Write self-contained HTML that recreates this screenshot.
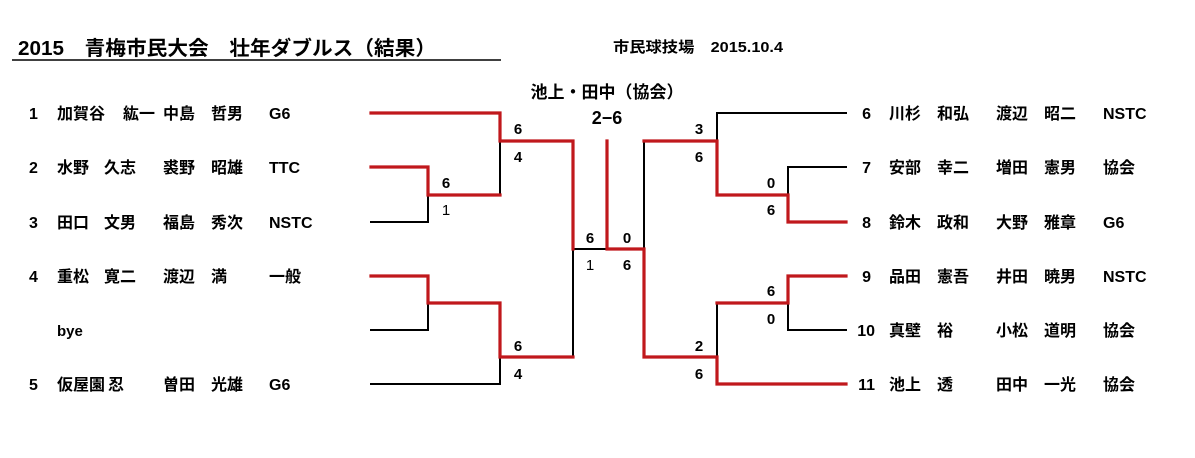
<!DOCTYPE html>
<html><head><meta charset="utf-8"><style>
html,body{margin:0;padding:0;background:#fff;}
svg{display:block;}
text{font-family:"Liberation Sans","Noto Sans CJK JP",sans-serif;fill:#000;}
.t{font-size:16px;font-weight:bold;}
</style></head><body>
<svg width="1195" height="458" viewBox="0 0 1195 458" xmlns="http://www.w3.org/2000/svg">
<text x="18" y="55" style="font-size:20px;font-weight:bold" textLength="418" lengthAdjust="spacingAndGlyphs">2015　青梅市民大会　壮年ダブルス（結果）</text>
<line x1="12" y1="60" x2="501" y2="60" stroke="#000" stroke-width="1.5"/>
<text x="613" y="52" style="font-size:15px;font-weight:bold" textLength="170" lengthAdjust="spacingAndGlyphs">市民球技場　2015.10.4</text>
<text x="607" y="98" text-anchor="middle" style="font-size:17px;font-weight:bold">池上・田中（協会）</text>
<text x="607" y="124" text-anchor="middle" style="font-size:18px;font-weight:bold">2−6</text>

<g fill="none" stroke-linecap="square">
<g stroke="#000" stroke-width="2">
<polyline points="500,141 500,195 428,195"/>
<polyline points="428,195 428,222 371,222"/>
<polyline points="428,303 428,330 371,330"/>
<polyline points="500,357 500,384 371,384"/>
<polyline points="573,249 573,357"/>
<line x1="573" y1="249" x2="607" y2="249"/>
<polyline points="644,249 644,141"/>
<polyline points="717,141 717,113 846,113"/>
<polyline points="788,195 788,167 846,167"/>
<polyline points="717,357 717,303"/>
<polyline points="788,303 788,330 846,330"/>
</g>
<g stroke="#c0181c" stroke-width="3.2">
<polyline points="371,113 500,113 500,141 573,141 573,249"/>
<polyline points="371,167 428,167 428,195 500,195"/>
<polyline points="371,276 428,276 428,303 500,303 500,357 573,357"/>
<polyline points="607,141 607,249 644,249 644,357 717,357 717,384 846,384"/>
<polyline points="644,141 717,141 717,195 788,195 788,222 846,222"/>
<polyline points="717,303 788,303 788,276 846,276"/>
</g>
</g>

<g text-anchor="middle" style="font-size:15px;font-weight:bold">
<text x="518" y="134">6</text><text x="518" y="162">4</text>
<text x="446" y="188">6</text><text x="446" y="215" style="font-weight:normal">1</text>
<text x="518" y="351">6</text><text x="518" y="379">4</text>
<text x="590" y="243">6</text><text x="590" y="270" style="font-weight:normal">1</text>
<text x="627" y="243">0</text><text x="627" y="270">6</text>
<text x="699" y="134">3</text><text x="699" y="162">6</text>
<text x="771" y="188">0</text><text x="771" y="215">6</text>
<text x="771" y="296">6</text><text x="771" y="324">0</text>
<text x="699" y="351">2</text><text x="699" y="379">6</text>
</g>

<g class="t">
<text x="29" y="119">1</text><text x="57" y="119">加賀谷</text><text x="123" y="119">紘一</text><text x="163" y="119">中島</text><text x="211" y="119">哲男</text><text x="269" y="119">G6</text>
<text x="29" y="173">2</text><text x="57" y="173">水野</text><text x="104" y="173">久志</text><text x="163" y="173">裘野</text><text x="211" y="173">昭雄</text><text x="269" y="173">TTC</text>
<text x="29" y="228">3</text><text x="57" y="228">田口</text><text x="104" y="228">文男</text><text x="163" y="228">福島</text><text x="211" y="228">秀次</text><text x="269" y="228">NSTC</text>
<text x="29" y="282">4</text><text x="57" y="282">重松</text><text x="104" y="282">寛二</text><text x="163" y="282">渡辺</text><text x="211" y="282">満</text><text x="269" y="282">一般</text>
<text x="57" y="336" style="font-size:15px">bye</text>
<text x="29" y="390">5</text><text x="57" y="390">仮屋園</text><text x="108" y="390">忍</text><text x="163" y="390">曽田</text><text x="211" y="390">光雄</text><text x="269" y="390">G6</text>
</g>

<g class="t">
<text x="871" y="119" text-anchor="end">6</text><text x="889" y="119">川杉</text><text x="937" y="119">和弘</text><text x="996" y="119">渡辺</text><text x="1044" y="119">昭二</text><text x="1103" y="119">NSTC</text>
<text x="871" y="173" text-anchor="end">7</text><text x="889" y="173">安部</text><text x="937" y="173">幸二</text><text x="996" y="173">増田</text><text x="1044" y="173">憲男</text><text x="1103" y="173">協会</text>
<text x="871" y="228" text-anchor="end">8</text><text x="889" y="228">鈴木</text><text x="937" y="228">政和</text><text x="996" y="228">大野</text><text x="1044" y="228">雅章</text><text x="1103" y="228">G6</text>
<text x="871" y="282" text-anchor="end">9</text><text x="889" y="282">品田</text><text x="937" y="282">憲吾</text><text x="996" y="282">井田</text><text x="1044" y="282">暁男</text><text x="1103" y="282">NSTC</text>
<text x="875" y="336" text-anchor="end">10</text><text x="889" y="336">真壁</text><text x="937" y="336">裕</text><text x="996" y="336">小松</text><text x="1044" y="336">道明</text><text x="1103" y="336">協会</text>
<text x="875" y="390" text-anchor="end">11</text><text x="889" y="390">池上</text><text x="937" y="390">透</text><text x="996" y="390">田中</text><text x="1044" y="390">一光</text><text x="1103" y="390">協会</text>
</g>
</svg>
</body></html>
